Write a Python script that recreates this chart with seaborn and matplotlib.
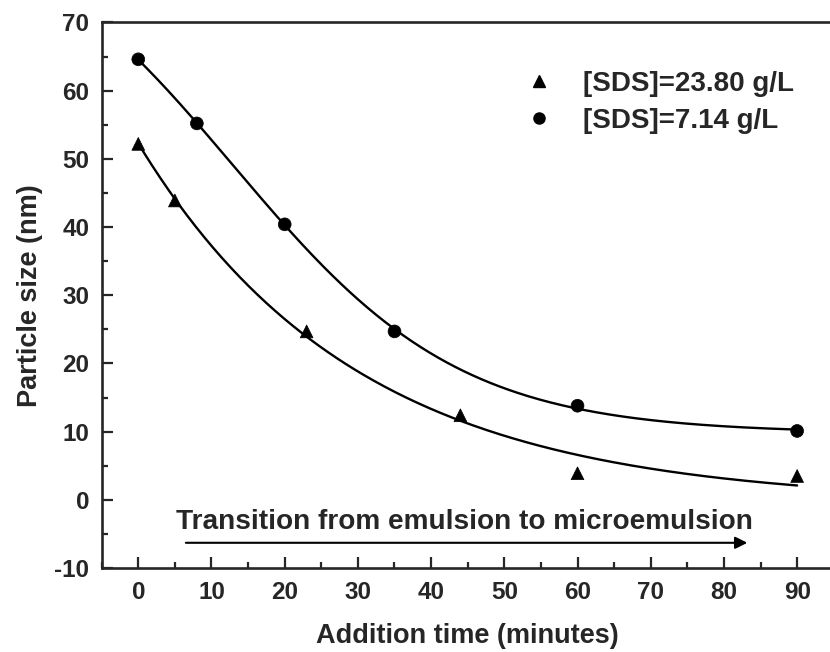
import numpy as np
import pandas as pd
import matplotlib
matplotlib.use("Agg")
import matplotlib.pyplot as plt
import seaborn as sns
from matplotlib.ticker import MultipleLocator
from matplotlib.lines import Line2D

# ---- data ----
time_high = [0, 5, 23, 44, 60, 90]              # [SDS]=23.80 g/L (triangles)
size_high = [52.2, 43.9, 24.7, 12.4, 3.9, 3.5]
time_low = [0, 8, 20, 35, 60, 90]               # [SDS]=7.14 g/L (circles)
size_low = [64.6, 55.2, 40.4, 24.7, 13.8, 10.1]
label_high = "[SDS]=23.80 g/L"
label_low = "[SDS]=7.14 g/L"
x_ticks = [0, 10, 20, 30, 40, 50, 60, 70, 80, 90]
y_ticks = [-10, 0, 10, 20, 30, 40, 50, 60, 70]
annot_text = "Transition from emulsion to microemulsion"

df = pd.DataFrame({
    "time": time_high + time_low,
    "size": size_high + size_low,
    "series": [label_high] * len(time_high) + [label_low] * len(time_low),
})


def exp_decay_fit(x, y):
    """y = y0 + A*exp(-x/t): grid over t, least squares for y0, A."""
    x = np.asarray(x, float)
    y = np.asarray(y, float)
    best = None
    for t in np.linspace(5, 200, 3901):
        M = np.column_stack([np.ones_like(x), np.exp(-x / t)])
        coef, *_ = np.linalg.lstsq(M, y, rcond=None)
        err = np.sum((M @ coef - y) ** 2)
        if best is None or err < best[0]:
            best = (err, coef, t)
    _, (y0, A), t = best
    xs = np.linspace(x.min(), x.max(), 300)
    return xs, y0 + A * np.exp(-xs / t)


def boltzmann_fit(x, y):
    """y = A2 + (A1-A2)/(1+exp((x-x0)/dx)): grid over x0, dx, least squares for A1, A2."""
    x = np.asarray(x, float)
    y = np.asarray(y, float)
    best = None
    for x0 in np.linspace(-20, 60, 161):
        for dx in np.linspace(3, 60, 115):
            g = 1.0 / (1.0 + np.exp((x - x0) / dx))
            M = np.column_stack([1 - g, g])
            coef, *_ = np.linalg.lstsq(M, y, rcond=None)
            err = np.sum((M @ coef - y) ** 2)
            if best is None or err < best[0]:
                best = (err, coef, x0, dx)
    _, (A2, A1), x0, dx = best
    xs = np.linspace(x.min(), x.max(), 300)
    g = 1.0 / (1.0 + np.exp((xs - x0) / dx))
    return xs, A2 + (A1 - A2) * g


sns.set_style("ticks")
plt.rcParams["font.family"] = ["Liberation Sans", "DejaVu Sans"]
plt.rcParams["font.weight"] = "bold"
plt.rcParams["axes.unicode_minus"] = False

fig = plt.figure(figsize=(8.3, 6.52), dpi=100)
ax = fig.add_axes([0.1225, 0.1288, 0.882, 0.8367])

# fitted curves
for xs_, ys_ in (exp_decay_fit(time_high, size_high), boltzmann_fit(time_low, size_low)):
    fit_df = pd.DataFrame({"t": xs_, "s": ys_})
    sns.lineplot(data=fit_df, x="t", y="s", ax=ax, color="black", lw=1.7, legend=False)

sns.scatterplot(data=df, x="time", y="size", style="series",
                markers={label_high: "^", label_low: "o"},
                color="black", s=85, edgecolor="black", linewidth=0.5, ax=ax, legend=False, zorder=3)

ax.set_xlim(-5, 95)
ax.set_ylim(-10, 70)
ax.set_xticks(x_ticks)
ax.set_yticks(y_ticks)
ax.xaxis.set_minor_locator(MultipleLocator(5))
ax.yaxis.set_minor_locator(MultipleLocator(5))
ax.tick_params(which="major", direction="in", length=8, width=1.6, labelsize=17.5, pad=9)
ax.tick_params(which="minor", direction="in", length=4, width=1.6)
for lab in ax.get_xticklabels() + ax.get_yticklabels():
    lab.set_fontweight("bold")
for sp in ax.spines.values():
    sp.set_linewidth(1.9)
    sp.set_visible(True)

ax.set_xlabel("Addition time (minutes)", fontsize=19.5, fontweight="bold", labelpad=14)
ax.set_ylabel("Particle size (nm)", fontsize=19.5, fontweight="bold", labelpad=8)

# arrow + annotation
ax.annotate("", xy=(83.2, -6.3), xytext=(6.5, -6.3),
            arrowprops=dict(arrowstyle="-|>", lw=1.5, color="black",
                            mutation_scale=18, shrinkA=0, shrinkB=0))
ax.text(5.2, -4.3, annot_text, fontsize=20.2, fontweight="bold", ha="left", va="baseline")

handles = [Line2D([], [], marker="^", ls="none", color="black", markersize=9),
           Line2D([], [], marker="o", ls="none", color="black", markersize=8)]
leg = ax.legend(handles, [label_high, label_low], loc="upper left",
                bbox_to_anchor=(0.56, 0.937), frameon=False, borderpad=0,
                handlelength=1.0, handletextpad=1.06, labelspacing=0.4,
                prop={"size": 20, "weight": "bold"})

fig.savefig("out.png", dpi=100)
